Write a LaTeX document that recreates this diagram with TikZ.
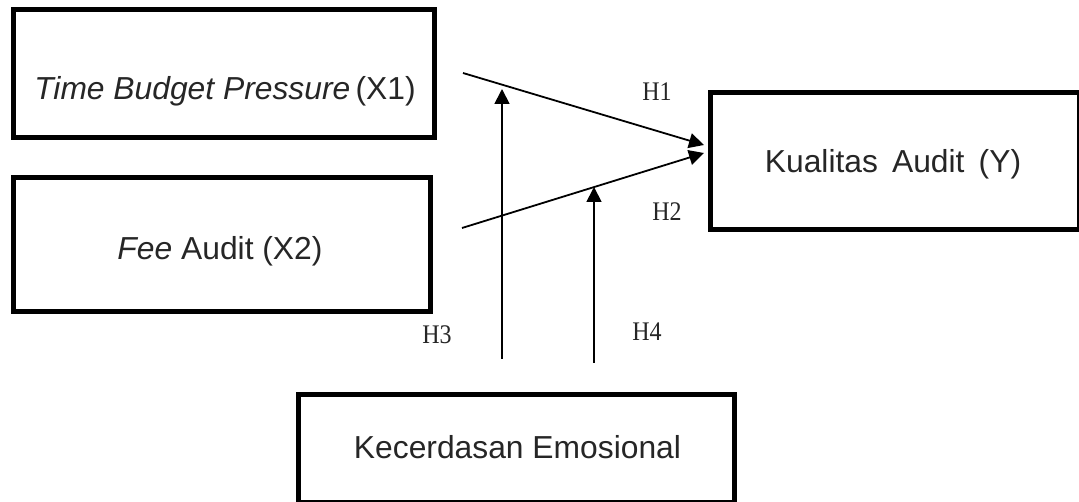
\documentclass[tikz,border=0pt]{standalone}
\usepackage{fontspec}
\setmainfont{Liberation Sans}
\newfontfamily\hfont{Liberation Serif}
\usetikzlibrary{arrows.meta}
\begin{document}
\begin{tikzpicture}[x=1pt,y=-1pt,
  box/.style={draw=black, line width=5pt, rectangle, inner sep=0pt, outer sep=0pt},
  txt/.style={anchor=base, inner sep=0pt, font=\fontsize{31.8}{38}\selectfont, text=black!85},
  hlab/.style={anchor=base, inner sep=0pt, font=\hfont\fontsize{24}{29}\selectfont, text=black!85},
  conn/.style={line width=1.8pt, -{Triangle[length=15pt,width=15pt]}}]
\useasboundingbox (0,0) rectangle (1079,502);
% boxes
\node[box, minimum width=421pt, minimum height=127.5pt] (x1) at (224,73.75) {};
\node[box, minimum width=417pt, minimum height=134pt] (x2) at (222,244.5) {};
\node[box, minimum width=368.5pt, minimum height=137pt] (y) at (894.75,161) {};
\node[box, minimum width=436pt, minimum height=107.5pt] (k) at (516.5,448.25) {};
% texts
\node[txt] (x1t) at (225,100) {\textit{Time Budget Pressure}\,(X1)};
\node[txt] (x2t) at (220,260) {\textit{Fee} Audit (X2)};
\node[txt] (yt) at (893,173) {Kualitas\,\ Audit\,\ (Y)};
\node[txt] (kt) at (517.5,458) {Kecerdasan Emosional};
% hypothesis labels
\node[hlab] (h1) at (657,101) {\scalebox{1}[1.12]{H1}};
\node[hlab] (h2) at (667,221) {\scalebox{1}[1.12]{H2}};
\node[hlab] (h3) at (437,344) {\scalebox{1}[1.12]{H3}};
\node[hlab] (h4) at (647,341) {\scalebox{1}[1.12]{H4}};
% connector ends
\coordinate (a1) at (463,73);
\coordinate (a2) at (462,228);
\coordinate (t1) at (704,145);
\coordinate (t2) at (704,153);
\coordinate (v1s) at (502,359);
\coordinate (v1e) at (502,89);
\coordinate (v2s) at (594,363);
\coordinate (v2e) at (594,187);
% connectors
\draw[conn] (a1) -- (t1);
\draw[conn] (a2) -- (t2);
\draw[conn] (v1s) -- (v1e);
\draw[conn] (v2s) -- (v2e);
\end{tikzpicture}
\end{document}
